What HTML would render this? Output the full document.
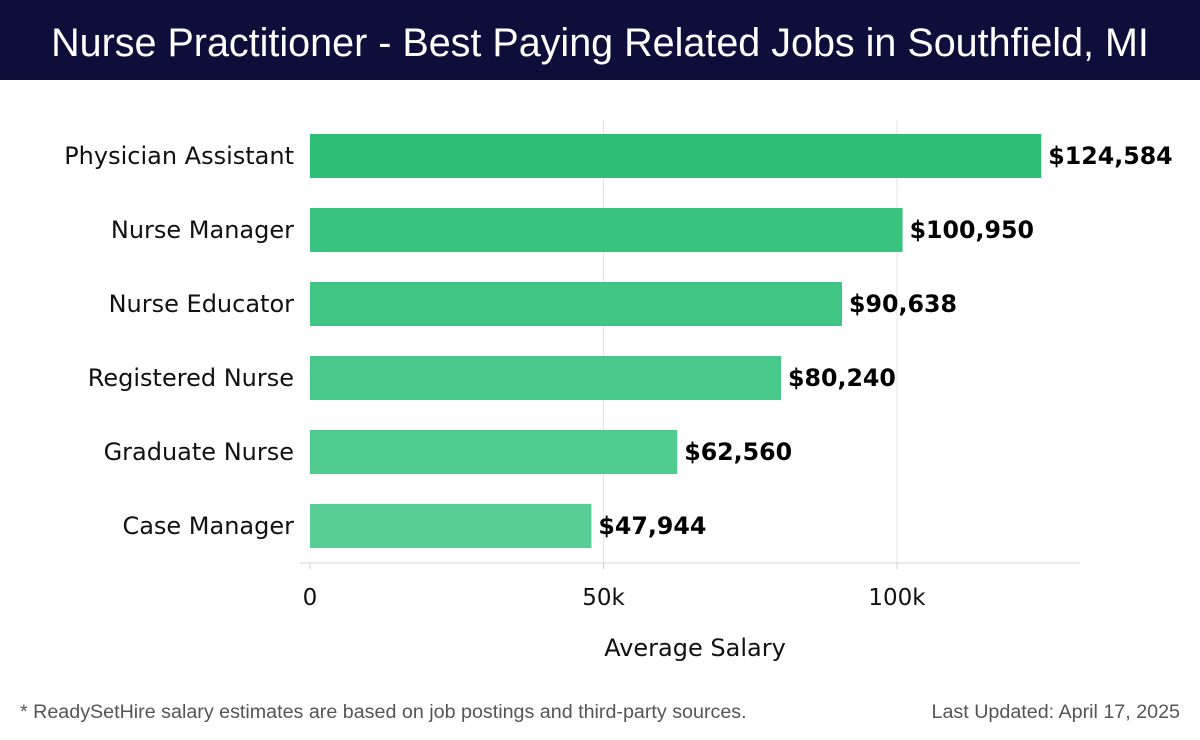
<!DOCTYPE html>
<html><head><meta charset="utf-8"><style>
body{margin:0;width:1200px;height:740px;background:#fff;overflow:hidden;font-family:"DejaVu Sans","Liberation Sans",sans-serif}
#hdr{position:absolute;left:0;top:0;width:1200px;height:80px;background:#0e0e3b;color:#fff;font-family:"Liberation Sans",sans-serif;font-size:39.5px;text-align:center;line-height:86px}
.foot{position:absolute;top:701px;font-family:"Liberation Sans",sans-serif;font-size:19.7px;color:#555}
</style></head><body>
<div id="hdr">Nurse Practitioner - Best Paying Related Jobs in Southfield, MI</div>
<svg id="chart" width="1200" height="740" style="position:absolute;left:0;top:0"></svg>
<div class="foot" style="left:20px">* ReadySetHire salary estimates are based on job postings and third-party sources.</div>
<div class="foot" style="right:20px">Last Updated: April 17, 2025</div>
<script>
const categories=["Physician Assistant","Nurse Manager","Nurse Educator","Registered Nurse","Graduate Nurse","Case Manager"];
const values=[124584,100950,90638,80240,62560,47944];
const tickValues=[0,50000,100000];
const tickLabels=["0","50k","100k"];
const colors=["#2dbf76","#38c37e","#40c584","#48c88a","#50cb90","#58ce97"];
const NS="http://www.w3.org/2000/svg";
const svg=document.getElementById('chart');
const x=v=>310+v*587/100000;
const y=i=>156+i*74;
function mk(t,a){const e=document.createElementNS(NS,t);for(const k in a)e.setAttribute(k,a[k]);svg.appendChild(e);return e;}
tickValues.forEach((t,i)=>{
 if(t>0){const g=mk('line',{x1:x(t),x2:x(t),y1:120,y2:563,stroke:'#e3e3e3'});}
 const tk=mk('line',{x1:x(t),x2:x(t),y1:563,y2:569,stroke:'#ccc'});
 const l=mk('text',{x:x(t),y:605,'text-anchor':'middle','font-size':23,fill:'#111'});l.textContent=tickLabels[i];
 
});
const ax=mk('line',{x1:300,x2:1080,y1:563,y2:563,stroke:'#d5d5d5'});

categories.forEach((c,i)=>{
 const b=mk('rect',{x:x(0),y:y(i)-22,width:x(values[i])-x(0),height:44,fill:colors[i]});
 
 const l=mk('text',{x:294,y:y(i)+8,'text-anchor':'end','font-size':24,fill:'#111'});l.textContent=c;
 
 const v=mk('text',{x:x(values[i])+7,y:y(i)+8,'font-size':23.7,'font-weight':'bold',fill:'#000'});v.textContent='$'+values[i].toLocaleString('en-US');
 
});
const at=mk('text',{x:695,y:656,'text-anchor':'middle','font-size':24,fill:'#111'});at.textContent='Average Salary';

</script>
</body></html>
